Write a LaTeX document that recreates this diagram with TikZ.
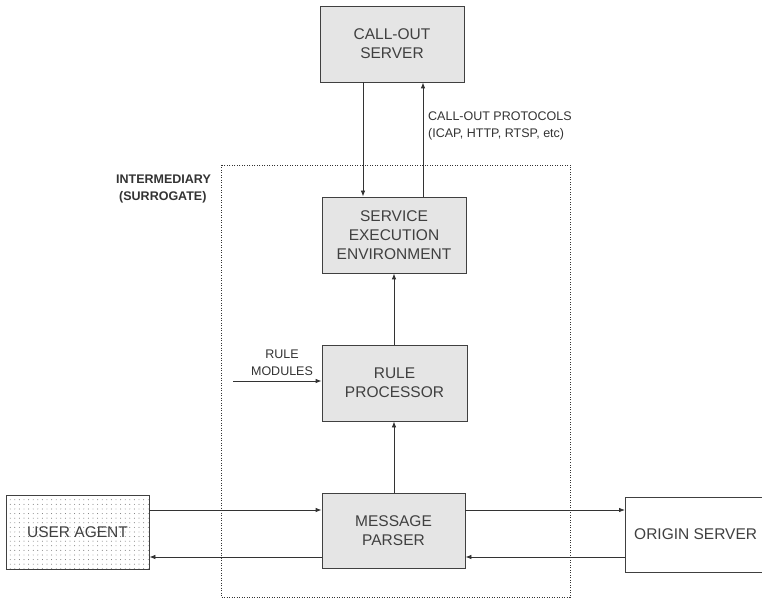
\documentclass[tikz,border=0pt]{standalone}
\usepackage{fontspec}
\setmainfont{Liberation Sans}
\usetikzlibrary{arrows.meta,patterns.meta}
\begin{document}
\begin{tikzpicture}[x=1pt,y=-1pt,
  box/.style={draw=black!75, line width=0.8pt, fill=black!10, text=black!75, font=\fontsize{15.5}{19}\selectfont, align=center, inner sep=0pt},
  conn/.style={draw=black!80, line width=0.8pt, -{Latex[length=6pt,width=4.5pt]}},
  lbl/.style={text=black!80, font=\fontsize{12.5}{16.7}\selectfont, align=left, inner sep=0pt}]
\useasboundingbox (0,0) rectangle (762,601);
\clip (0,0) rectangle (762,601);
\fill[white] (0,0) rectangle (762,601);
% dotted intermediary frame
\draw[black!80, line width=0.8pt, dash pattern=on 1pt off 1.5pt] (221,165) rectangle (570,597);
\node[lbl, font=\bfseries\fontsize{12.5}{16.5}\selectfont, anchor=north west] (inter) at (116,175) {INTERMEDIARY\\\hspace*{3pt}(SURROGATE)};
% boxes
\node[box, minimum width=144pt, minimum height=76pt] (cos) at (392,44) {CALL-OUT\\SERVER};
\node[box, minimum width=144pt, minimum height=76pt] (see) at (394,235) {SERVICE\\EXECUTION\\ENVIRONMENT};
\node[box, minimum width=145pt, minimum height=76pt] (rp) at (394.5,383) {RULE\\PROCESSOR};
\node[box, minimum width=143pt, minimum height=75pt] (mp) at (393.5,530.5) {MESSAGE\\PARSER};
\node[box, fill=white, minimum width=143pt, minimum height=74pt, pattern={Dots[radius=0.45pt, distance=4.6pt, xshift=1pt]}, pattern color=black!65] (ua) at (77.5,532) {};
\node[text=black!75, font=\fontsize{15.5}{19}\selectfont, inner sep=0pt] (uat) at (ua) {USER AGENT};
\node[box, fill=white, minimum width=150pt, minimum height=75pt, anchor=west] (os) at (625,534.5) {};
\node[text=black!75, font=\fontsize{15.5}{19}\selectfont, inner sep=0pt, anchor=west] (ost) at (634,534.5) {ORIGIN SERVER};
% call-out connectors
\draw[conn] (cos.south -| 363,0) -- (see.north -| 363,0);
\draw[conn] (see.north -| 423,0) -- (cos.south -| 423,0);
\node[lbl, anchor=north west] (proto) at (428,112) {CALL-OUT PROTOCOLS\\(ICAP, HTTP, RTSP, etc)};
% vertical flow
\draw[conn] (rp.north -| 394,0) -- (see.south -| 394,0);
\draw[conn] (mp.north -| 394,0) -- (rp.south -| 394,0);
% rule modules
\coordinate (rmstart) at (233,381);
\draw[conn] (rmstart) -- (rp.west |- rmstart);
\node[lbl, align=center, anchor=south] (rmlbl) at (282,376) {RULE\\MODULES};
% horizontal flows
\draw[conn] (ua.east |- 0,510) -- (mp.west |- 0,510);
\draw[conn] (mp.west |- 0,557) -- (ua.east |- 0,557);
\draw[conn] (mp.east |- 0,510) -- (os.west |- 0,510);
\draw[conn] (os.west |- 0,557) -- (mp.east |- 0,557);
\end{tikzpicture}
\end{document}
